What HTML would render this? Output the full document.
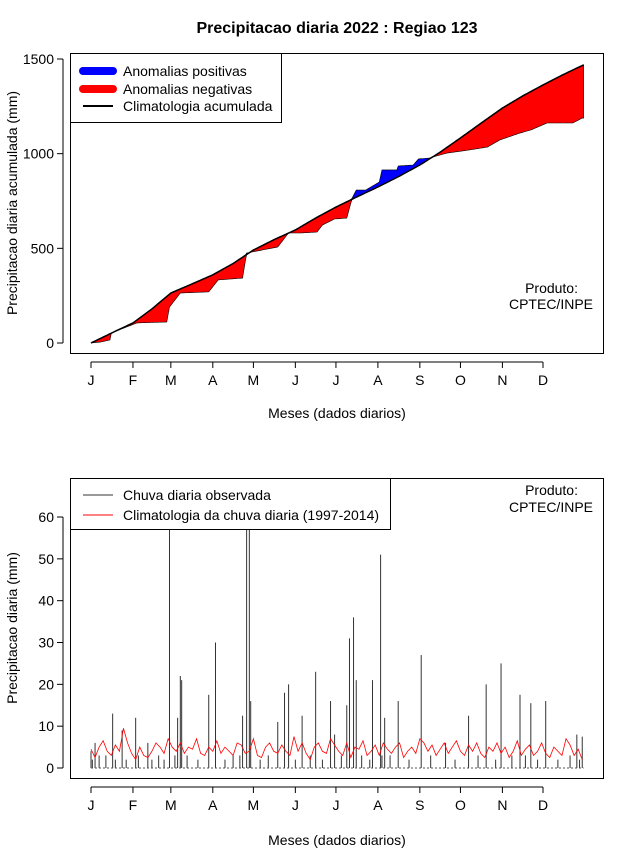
<!DOCTYPE html>
<html><head><meta charset="utf-8">
<style>
body{margin:0;background:#fff;}
svg{display:block;font-family:"Liberation Sans",sans-serif;}
</style></head>
<body>
<svg id="c" width="640" height="850" xmlns="http://www.w3.org/2000/svg">
<rect width="640" height="850" fill="#fff"/>
<text x="337" y="33" text-anchor="middle" font-size="16" font-weight="bold">Precipitacao diaria 2022 : Regiao 123</text>
<g id="topPanel"></g>
<g id="botPanel"></g>
</svg>
<script>
const months = ["J","F","M","A","M","J","J","A","S","O","N","D"];
const monthStartDays = [1,32,60,91,121,152,182,213,244,274,305,335];
const climAccDays = [1,16,32,46,60,75,91,106,121,136,152,167,182,197,213,228,244,259,274,289,305,320,335,350,365];
const climAccVals = [0,52,106,180,264,310,360,420,491,545,597,660,718,770,824,878,940,1008,1083,1160,1241,1305,1363,1418,1469];
const obsAccDays = [1,8,15,16,35,57,59,67,88,95,113,116,131,139,147,156,168,172,181,190,194,197,204,214,216,227,228,239,243,251,264,280,294,303,318,326,338,357,364,365];
const obsAccVals = [0,5,16,53,106,111,190,264,270,333,343,475,496,507,581,581,586,623,655,660,766,808,808,850,914,914,935,940,972,977,1003,1019,1035,1072,1109,1125,1162,1162,1188,1188];
const topYTicks = [0,500,1000,1500];
const spikeDays = [1,2,4,7,12,17,19,24,27,34,36,43,46,51,55,59,63,65,67,68,72,80,88,93,100,106,111,113,116,118,119,126,132,139,144,147,152,157,163,167,172,178,181,186,190,192,195,197,201,207,209,215,216,218,222,228,236,245,252,263,270,280,287,293,300,304,312,318,322,326,331,337,346,355,360,362,364];
const spikeVals = [4,2,6,3,3,13,2,9,2,12,3,6,2,3,2,60,3,12,22,21,3,2,17.5,30,2,3,3,12.5,60,60,16,2,3,11,18,20,2,12.5,3,23,2,16,8,3,15,31,36,21,3,2,21,51,3,12,3,16,2,27,3,6,2,12.5,3,20,2,25,3,17.5,3,15.5,2,16,2,3,8,2,7.5];
const climDaily = [4.5,2.5,5,6.5,4,3,5.5,4,9.5,6,3.5,2,5,3,2.5,4,6,5,3.5,7,5,4,6,3.5,5,4.5,7,3.5,3,5,4,6.5,3.5,5,4,3,6,5.5,3.5,4,7,3,2.5,5,6,4,3.5,5.5,4,3,7.5,4,6,3.5,2,5,6,4,3.5,7,5.5,4,3,6,2.5,5,4.5,6.5,3,4,5.5,3,6,4.5,3.5,5,6,2.5,4,5,3.5,7,6,4,5.5,3,4.5,6,3.5,5,6.5,4,3,5.5,4,6,3.5,2.5,5,4,6,3.5,5,2.5,4,6.5,3,4.5,5.5,3,4,6,3.5,2.5,5,4,3,7,5.5,3,4.5,2];
const botYTicks = [0,10,20,30,40,50,60];

const NS="http://www.w3.org/2000/svg";
function mk(parent,tag,attrs){const e=document.createElementNS(NS,tag);for(const k in attrs)e.setAttribute(k,attrs[k]);parent.appendChild(e);return e;}
const xDay = d => 91 + (d-1)*(452/334);
const yTop = v => 343 - v*0.18933;
const yBot = v => 768 - v*4.183;
function interp(ds,vs,d){for(let i=1;i<ds.length;i++){if(d<=ds[i]){const t=(d-ds[i-1])/(ds[i]-ds[i-1]||1);return vs[i-1]+t*(vs[i]-vs[i-1]);}}return vs[vs.length-1];}

// ---- top panel
const topG=document.getElementById('topPanel');
const days=[];for(let d=1;d<=365;d++)days.push(d);
const climA=days.map(d=>interp(climAccDays,climAccVals,d));
const obsA=days.map(d=>interp(obsAccDays,obsAccVals,d));
const redTop=days.map((d,i)=>xDay(d)+','+yTop(climA[i]));
const redBot=days.map((d,i)=>xDay(d)+','+yTop(Math.min(obsA[i],climA[i]))).reverse();
const redPoly=mk(topG,'polygon',{points:redTop.concat(redBot).join(' '),fill:'#ff0000',stroke:'#000','stroke-width':0.6});


const blueTop=days.map((d,i)=>xDay(d)+','+yTop(Math.max(obsA[i],climA[i])));
const blueBot=days.map((d,i)=>xDay(d)+','+yTop(climA[i])).reverse();
const bluePoly=mk(topG,'polygon',{points:blueTop.concat(blueBot).join(' '),fill:'#0000ff',stroke:'#000','stroke-width':0.6});


const cl=mk(topG,'polyline',{points:redTop.join(' '),fill:'none',stroke:'#000','stroke-width':1.5});


mk(topG,'rect',{x:70.5,y:53.5,width:533,height:300,fill:'none',stroke:'#000'});
mk(topG,'line',{x1:63,x2:63,y1:yTop(0),y2:yTop(1500),stroke:'#000'});
topYTicks.forEach(v=>{mk(topG,'line',{x1:57,x2:63,y1:yTop(v),y2:yTop(v),stroke:'#000'});
 const t=mk(topG,'text',{x:54,y:yTop(v)+5,'text-anchor':'end','font-size':14});t.textContent=v;
 
 });
function xAxis(g,y){mk(g,'line',{x1:xDay(1),x2:xDay(335),y1:y,y2:y,stroke:'#000'});
 months.forEach((m,i)=>{const x=xDay(monthStartDays[i]);mk(g,'line',{x1:x,x2:x,y1:y,y2:y+6,stroke:'#000'});
 const t=mk(g,'text',{x:x,y:y+23,'text-anchor':'middle','font-size':14});t.textContent=m;
 
 });}
xAxis(topG,362);
let tx=mk(topG,'text',{x:337,y:418,'text-anchor':'middle','font-size':14});tx.textContent='Meses (dados diarios)';

tx=mk(topG,'text',{x:17,y:203,'text-anchor':'middle','font-size':14,transform:'rotate(-90 17 203)'});tx.textContent='Precipitacao diaria acumulada (mm)';

tx=mk(topG,'text',{x:578,y:293,'text-anchor':'end','font-size':14});tx.textContent='Produto:';

tx=mk(topG,'text',{x:593,y:309,'text-anchor':'end','font-size':14});tx.textContent='CPTEC/INPE';

const lg=mk(topG,'g',{});

mk(lg,'rect',{x:70.5,y:53.5,width:211,height:69,fill:'#fff',stroke:'#000'});
[['#0000ff',8,'Anomalias positivas',76],['#ff0000',8,'Anomalias negativas',94],['#000',2,'Climatologia acumulada',111]].forEach(r=>{
 mk(lg,'line',{x1:83,x2:113,y1:r[3]-5,y2:r[3]-5,stroke:r[0],'stroke-width':r[1],'stroke-linecap':r[1]>4?'round':'butt'});
 const tt=mk(lg,'text',{x:123,y:r[3],'font-size':14});tt.textContent=r[2];
 });

// ---- bottom panel
const botG=document.getElementById('botPanel');
spikeDays.forEach((d,i)=>{const b=mk(botG,'line',{x1:xDay(d),x2:xDay(d),y1:yBot(0),y2:Math.max(479,yBot(spikeVals[i])),stroke:'#333','stroke-width':1});
 
 });
mk(botG,'line',{x1:xDay(1),x2:xDay(365),y1:yBot(0),y2:yBot(0),stroke:'#555','stroke-width':1,'stroke-dasharray':'2,2'});
const cpts=climDaily.map((v,i)=>xDay(1+i*3)+','+yBot(v)).join(' ');
const rl=mk(botG,'polyline',{points:cpts,fill:'none',stroke:'#ff0000','stroke-width':0.8});

mk(botG,'rect',{x:70.5,y:478.5,width:533,height:300,fill:'none',stroke:'#000'});
mk(botG,'line',{x1:63,x2:63,y1:yBot(0),y2:yBot(60),stroke:'#000'});
botYTicks.forEach(v=>{mk(botG,'line',{x1:57,x2:63,y1:yBot(v),y2:yBot(v),stroke:'#000'});
 const tt=mk(botG,'text',{x:54,y:yBot(v)+5,'text-anchor':'end','font-size':14});tt.textContent=v;
 });
xAxis(botG,787);
tx=mk(botG,'text',{x:337,y:845,'text-anchor':'middle','font-size':14});tx.textContent='Meses (dados diarios)';

tx=mk(botG,'text',{x:17,y:628,'text-anchor':'middle','font-size':14,transform:'rotate(-90 17 628)'});tx.textContent='Precipitacao diaria (mm)';

tx=mk(botG,'text',{x:578,y:495,'text-anchor':'end','font-size':14});tx.textContent='Produto:';

tx=mk(botG,'text',{x:593,y:512,'text-anchor':'end','font-size':14});tx.textContent='CPTEC/INPE';

const lg2=mk(botG,'g',{});

mk(lg2,'rect',{x:70.5,y:478.5,width:320,height:51,fill:'#fff',stroke:'#000'});
[['#333','Chuva diaria observada',500],['#ff0000','Climatologia da chuva diaria (1997-2014)',520]].forEach(r=>{
 mk(lg2,'line',{x1:83,x2:113,y1:r[2]-5,y2:r[2]-5,stroke:r[0],'stroke-width':1});
 const tt=mk(lg2,'text',{x:123,y:r[2],'font-size':14});tt.textContent=r[1];
 });
</script>
</body></html>
